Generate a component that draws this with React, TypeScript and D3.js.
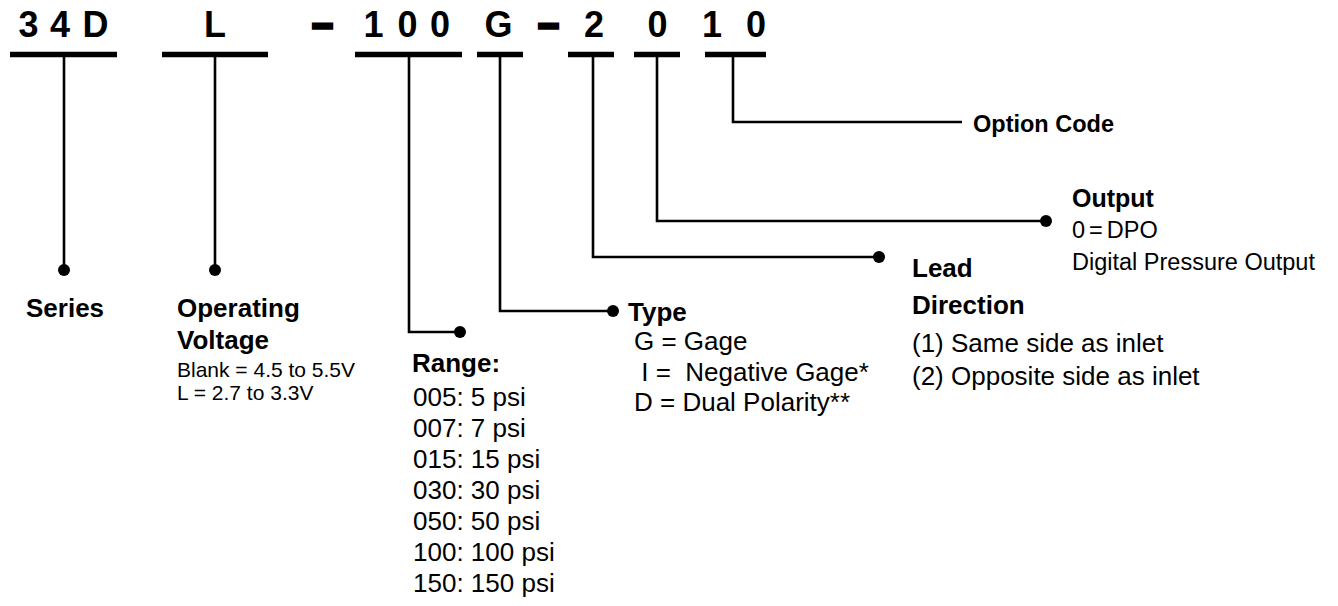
import * as d3 from "d3";

// part number, one glyph at a time, as printed across the top
const codeChars = ["3", "4", "D", "L", "–", "1", "0", "0", "G", "–", "2", "0", "1", "0"];

const seriesTitle = ["Series"];
const voltageTitle = ["Operating", "Voltage"];
const voltageOptions = ["Blank = 4.5 to 5.5V", "L = 2.7 to 3.3V"];
const rangeTitle = ["Range:"];
const rangeOptions = [
  "005: 5 psi",
  "007: 7 psi",
  "015: 15 psi",
  "030: 30 psi",
  "050: 50 psi",
  "100: 100 psi",
  "150: 150 psi",
];
const typeTitle = ["Type"];
const typeOptions = ["G = Gage", " I =  Negative Gage*", "D = Dual Polarity**"];
const leadTitle = ["Lead", "Direction"];
const leadOptions = ["(1) Same side as inlet", "(2) Opposite side as inlet"];
const outputTitle = ["Output"];
const outputOptions = ["0 = DPO", "Digital Pressure Output"];
const optionTitle = ["Option Code"];

// layout
const W = 1338;
const H = 606;
const FONT = "'Liberation Sans', Arial, sans-serif";
const BAR_Y = 54.5;

const charX = [28.5, 60, 95.5, 215, 322.5, 373.5, 407.5, 440, 498.5, 548.5, 594, 657.5, 712, 756];

// underline extents
const bars: [number, number][] = [
  [10, 117],
  [162, 268],
  [355, 462],
  [477, 523],
  [568, 614],
  [634, 680],
  [705, 766],
];

type Leg = {
  x: number; // where the stem leaves the bar
  y: number; // where it turns
  end: number; // where it stops
  dot: boolean;
};

const legs: Leg[] = [
  { x: 64, y: 270, end: 64, dot: true },
  { x: 215, y: 270, end: 215, dot: true },
  { x: 409, y: 332, end: 460, dot: true },
  { x: 500, y: 311, end: 613, dot: true },
  { x: 593, y: 257, end: 879, dot: true },
  { x: 657, y: 221, end: 1046, dot: true },
  { x: 733, y: 122, end: 962, dot: false },
];

const line = d3.line<[number, number]>();

function Block({
  x,
  y,
  title,
  titleSize,
  titleGap,
  items,
  itemSize,
  itemX,
  itemY,
  itemGaps,
  wordSpacing,
}: {
  x: number;
  y: number;
  title: string[];
  titleSize: number;
  titleGap: number;
  items?: string[];
  itemSize?: number;
  itemX?: number;
  itemY?: number;
  itemGaps?: number[];
  wordSpacing?: number[];
}) {
  let cy = itemY ?? 0;
  return (
    <g fontFamily={FONT} fill="#000">
      {title.map((t, i) => (
        <text key={t} x={x} y={y + i * titleGap} fontSize={titleSize} fontWeight="bold">
          {t}
        </text>
      ))}
      {(items ?? []).map((t, i) => {
        if (i > 0) cy += itemGaps?.[i - 1] ?? 0;
        return (
          <text
            key={t}
            x={itemX ?? x}
            y={cy}
            fontSize={itemSize}
            wordSpacing={wordSpacing?.[i] ?? 0}
            style={{ whiteSpace: "pre" }}
          >
            {t}
          </text>
        );
      })}
    </g>
  );
}

export default function App() {
  return (
    <svg
      width={W}
      height={H}
      viewBox={`0 0 ${W} ${H}`}
      style={{ position: "absolute", left: 0, top: 0, background: "#fff" }}
    >
      {/* part number */}
      <g fontFamily={FONT} fontWeight="bold" fontSize={36} textAnchor="middle">
        {codeChars.map((c, i) => (
          <text
            key={i}
            x={charX[i]}
            y={37}
            fill="#000"
            stroke={c === "–" ? "#000" : "none"}
            strokeWidth={c === "–" ? 3.5 : 0}
            transform={c === "–" ? "translate(0,-1.5)" : undefined}
          >
            {c}
          </text>
        ))}
      </g>

      {/* underlines */}
      {bars.map((b, i) => (
        <line key={i} x1={b[0]} x2={b[1]} y1={BAR_Y} y2={BAR_Y} stroke="#000" strokeWidth={5.5} />
      ))}

      {/* leader lines */}
      {legs.map((l, i) => (
        <g key={i}>
          <path
            d={
              line([
                [l.x, BAR_Y + 2],
                [l.x, l.y],
                [l.end, l.y],
              ]) ?? ""
            }
            fill="none"
            stroke="#000"
            strokeWidth={2.6}
            strokeLinejoin="miter"
          />
          {l.dot && <circle cx={l.end} cy={l.y} r={6} fill="#000" />}
        </g>
      ))}

      <Block x={26} y={317} title={seriesTitle} titleSize={26} titleGap={0} />
      <Block
        x={177}
        y={317}
        title={voltageTitle}
        titleSize={26}
        titleGap={32}
        items={voltageOptions}
        itemSize={21}
        itemY={377}
        itemGaps={[23]}
      />
      <Block
        x={412}
        y={372}
        title={rangeTitle}
        titleSize={26}
        titleGap={0}
        items={rangeOptions}
        itemSize={26}
        itemX={413}
        itemY={406}
        itemGaps={[31, 31, 31, 31, 31, 31]}
      />
      <Block
        x={628}
        y={321}
        title={typeTitle}
        titleSize={26}
        titleGap={0}
        items={typeOptions}
        itemSize={26}
        itemX={634}
        itemY={350}
        itemGaps={[31, 30]}
      />
      <Block
        x={912}
        y={277}
        title={leadTitle}
        titleSize={26}
        titleGap={37}
        items={leadOptions}
        itemSize={26}
        itemY={352}
        itemGaps={[33]}
      />
      <Block
        x={1072}
        y={207}
        title={outputTitle}
        titleSize={25}
        titleGap={0}
        items={outputOptions}
        itemSize={23.5}
        itemY={238}
        itemGaps={[32]}
        wordSpacing={[-2.5, 0]}
      />
      <Block x={973} y={132} title={optionTitle} titleSize={23.5} titleGap={0} />
    </svg>
  );
}
